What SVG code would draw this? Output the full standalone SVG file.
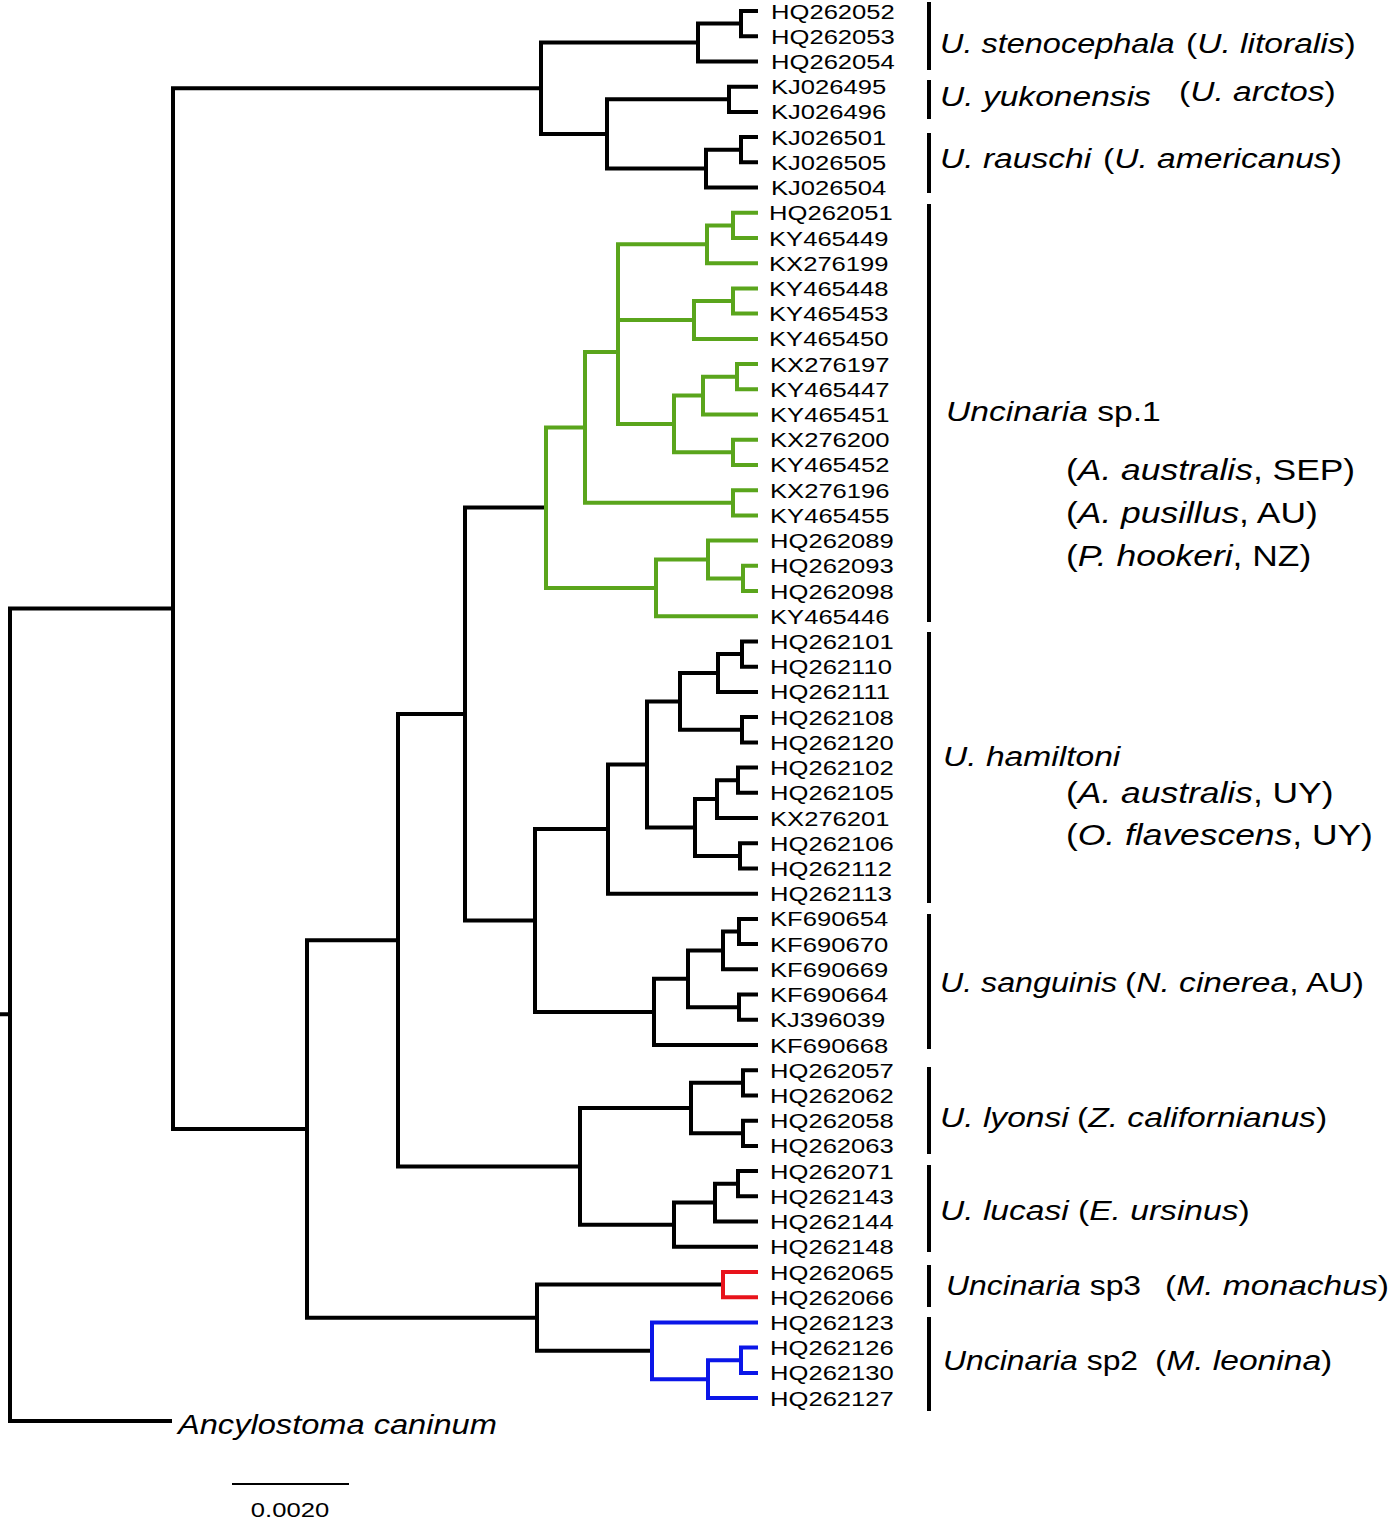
<svg xmlns="http://www.w3.org/2000/svg" width="1400" height="1521" viewBox="0 0 1400 1521">
<style>
.br{fill:none;stroke:#000;stroke-width:4;stroke-linejoin:miter;stroke-linecap:butt}
.g{stroke:#5aa51c}.r{stroke:#e8131b}.b{stroke:#0b16e8}
.bar{stroke:#000;stroke-width:4}
text{font-family:"Liberation Sans",Arial,Helvetica,sans-serif;fill:#000}
.acc{font-size:20px}
.lab{font-size:28px}
.host{font-size:29.5px}
.it{font-style:italic}
</style>
<rect width="1400" height="1521" fill="#fff"/>
<g id="connectors">
<path class="br" d="M0 1014.3 H10 M173 608.6 H10 V1421 H172"/>
<path class="br" d="M541 88.2 H173 V1129 H307"/>
<path class="br" d="M698 42.5 H541 V134 H607"/>
<path class="br" d="M741 23.6 H698 V61.4 H758"/>
<path class="br" d="M758 11 H741 V36.2 H758"/>
<path class="br" d="M729 99.3 H607 V168.6 H706"/>
<path class="br" d="M758 86.7 H729 V111.9 H758"/>
<path class="br" d="M741 149.7 H706 V187.5 H758"/>
<path class="br" d="M758 137.1 H741 V162.3 H758"/>
<path class="br" d="M398 940.2 H307 V1317.7 H537"/>
<path class="br" d="M465 714 H398 V1166.4 H580"/>
<path class="br" d="M546 507.6 H465 V920.5 H535"/>
<path class="br g" d="M585 427.4 H546 V587.9 H656"/>
<path class="br g" d="M618 352 H585 V502.8 H733"/>
<path class="br g" d="M758 490.2 H733 V515.4 H758"/>
<path class="br g" d="M707 244.3 H618 V424 H674 M618 320 H694"/>
<path class="br g" d="M733 225.4 H707 V263.2 H758"/>
<path class="br g" d="M758 212.8 H733 V238 H758"/>
<path class="br g" d="M733 301 H694 V338.9 H758"/>
<path class="br g" d="M758 288.4 H733 V313.6 H758"/>
<path class="br g" d="M703 395.6 H674 V452.3 H733"/>
<path class="br g" d="M737 376.7 H703 V414.5 H758"/>
<path class="br g" d="M758 364.1 H737 V389.3 H758"/>
<path class="br g" d="M758 439.7 H733 V464.9 H758"/>
<path class="br g" d="M708 559.5 H656 V616.3 H758"/>
<path class="br g" d="M758 540.6 H708 V578.4 H743"/>
<path class="br g" d="M758 565.8 H743 V591 H758"/>
<path class="br" d="M608 829.1 H535 V1011.9 H654"/>
<path class="br" d="M647 764.5 H608 V893.7 H758"/>
<path class="br" d="M680 701.4 H647 V827.5 H695"/>
<path class="br" d="M718 673 H680 V729.8 H742"/>
<path class="br" d="M742 654.1 H718 V691.9 H758"/>
<path class="br" d="M758 641.5 H742 V666.7 H758"/>
<path class="br" d="M758 717.1 H742 V742.4 H758"/>
<path class="br" d="M717 799.1 H695 V855.9 H740"/>
<path class="br" d="M738 780.2 H717 V818 H758"/>
<path class="br" d="M758 767.6 H738 V792.8 H758"/>
<path class="br" d="M758 843.2 H740 V868.5 H758"/>
<path class="br" d="M688 978.8 H654 V1045 H758"/>
<path class="br" d="M723 950.4 H688 V1007.2 H739"/>
<path class="br" d="M739 931.5 H723 V969.3 H758"/>
<path class="br" d="M758 918.9 H739 V944.1 H758"/>
<path class="br" d="M758 994.6 H739 V1019.8 H758"/>
<path class="br" d="M691 1108 H580 V1224.7 H674"/>
<path class="br" d="M743 1082.8 H691 V1133.3 H743"/>
<path class="br" d="M758 1070.2 H743 V1095.4 H758"/>
<path class="br" d="M758 1120.7 H743 V1145.9 H758"/>
<path class="br" d="M715 1202.6 H674 V1246.8 H758"/>
<path class="br" d="M738 1183.7 H715 V1221.5 H758"/>
<path class="br" d="M758 1171.1 H738 V1196.3 H758"/>
<path class="br" d="M723 1284.6 H537 V1350.8 H652"/>
<path class="br r" d="M758 1272 H723 V1297.2 H758"/>
<path class="br b" d="M758 1322.4 H652 V1379.2 H708"/>
<path class="br b" d="M741 1360.2 H708 V1398.1 H758"/>
<path class="br b" d="M758 1347.6 H741 V1372.9 H758"/>
</g>
<g id="leaves">
<g id="n-HQ262052"><text class="acc" transform="translate(771 18.5) scale(1.28 1)">HQ262052</text></g>
<g id="n-HQ262053"><text class="acc" transform="translate(771 43.7) scale(1.28 1)">HQ262053</text></g>
<g id="n-HQ262054"><text class="acc" transform="translate(771 68.9) scale(1.28 1)">HQ262054</text></g>
<g id="n-KJ026495"><text class="acc" transform="translate(771 94.2) scale(1.28 1)">KJ026495</text></g>
<g id="n-KJ026496"><text class="acc" transform="translate(771 119.4) scale(1.28 1)">KJ026496</text></g>
<g id="n-KJ026501"><text class="acc" transform="translate(771 144.6) scale(1.28 1)">KJ026501</text></g>
<g id="n-KJ026505"><text class="acc" transform="translate(771 169.8) scale(1.28 1)">KJ026505</text></g>
<g id="n-KJ026504"><text class="acc" transform="translate(771 195) scale(1.28 1)">KJ026504</text></g>
<g id="n-HQ262051"><text class="acc" transform="translate(769 220.3) scale(1.28 1)">HQ262051</text></g>
<g id="n-KY465449"><text class="acc" transform="translate(769 245.5) scale(1.28 1)">KY465449</text></g>
<g id="n-KX276199"><text class="acc" transform="translate(769 270.7) scale(1.28 1)">KX276199</text></g>
<g id="n-KY465448"><text class="acc" transform="translate(769 295.9) scale(1.28 1)">KY465448</text></g>
<g id="n-KY465453"><text class="acc" transform="translate(769 321.1) scale(1.28 1)">KY465453</text></g>
<g id="n-KY465450"><text class="acc" transform="translate(769 346.4) scale(1.28 1)">KY465450</text></g>
<g id="n-KX276197"><text class="acc" transform="translate(770 371.6) scale(1.28 1)">KX276197</text></g>
<g id="n-KY465447"><text class="acc" transform="translate(770 396.8) scale(1.28 1)">KY465447</text></g>
<g id="n-KY465451"><text class="acc" transform="translate(770 422) scale(1.28 1)">KY465451</text></g>
<g id="n-KX276200"><text class="acc" transform="translate(770 447.2) scale(1.28 1)">KX276200</text></g>
<g id="n-KY465452"><text class="acc" transform="translate(770 472.4) scale(1.28 1)">KY465452</text></g>
<g id="n-KX276196"><text class="acc" transform="translate(770 497.7) scale(1.28 1)">KX276196</text></g>
<g id="n-KY465455"><text class="acc" transform="translate(770 522.9) scale(1.28 1)">KY465455</text></g>
<g id="n-HQ262089"><text class="acc" transform="translate(770 548.1) scale(1.28 1)">HQ262089</text></g>
<g id="n-HQ262093"><text class="acc" transform="translate(770 573.3) scale(1.28 1)">HQ262093</text></g>
<g id="n-HQ262098"><text class="acc" transform="translate(770 598.5) scale(1.28 1)">HQ262098</text></g>
<g id="n-KY465446"><text class="acc" transform="translate(770 623.8) scale(1.28 1)">KY465446</text></g>
<g id="n-HQ262101"><text class="acc" transform="translate(770 649) scale(1.28 1)">HQ262101</text></g>
<g id="n-HQ262110"><text class="acc" transform="translate(770 674.2) scale(1.28 1)">HQ262110</text></g>
<g id="n-HQ262111"><text class="acc" transform="translate(770 699.4) scale(1.28 1)">HQ262111</text></g>
<g id="n-HQ262108"><text class="acc" transform="translate(770 724.6) scale(1.28 1)">HQ262108</text></g>
<g id="n-HQ262120"><text class="acc" transform="translate(770 749.9) scale(1.28 1)">HQ262120</text></g>
<g id="n-HQ262102"><text class="acc" transform="translate(770 775.1) scale(1.28 1)">HQ262102</text></g>
<g id="n-HQ262105"><text class="acc" transform="translate(770 800.3) scale(1.28 1)">HQ262105</text></g>
<g id="n-KX276201"><text class="acc" transform="translate(770 825.5) scale(1.28 1)">KX276201</text></g>
<g id="n-HQ262106"><text class="acc" transform="translate(770 850.7) scale(1.28 1)">HQ262106</text></g>
<g id="n-HQ262112"><text class="acc" transform="translate(770 876) scale(1.28 1)">HQ262112</text></g>
<g id="n-HQ262113"><text class="acc" transform="translate(770 901.2) scale(1.28 1)">HQ262113</text></g>
<g id="n-KF690654"><text class="acc" transform="translate(770 926.4) scale(1.28 1)">KF690654</text></g>
<g id="n-KF690670"><text class="acc" transform="translate(770 951.6) scale(1.28 1)">KF690670</text></g>
<g id="n-KF690669"><text class="acc" transform="translate(770 976.8) scale(1.28 1)">KF690669</text></g>
<g id="n-KF690664"><text class="acc" transform="translate(770 1002.1) scale(1.28 1)">KF690664</text></g>
<g id="n-KJ396039"><text class="acc" transform="translate(770 1027.3) scale(1.28 1)">KJ396039</text></g>
<g id="n-KF690668"><text class="acc" transform="translate(770 1052.5) scale(1.28 1)">KF690668</text></g>
<g id="n-HQ262057"><text class="acc" transform="translate(770 1077.7) scale(1.28 1)">HQ262057</text></g>
<g id="n-HQ262062"><text class="acc" transform="translate(770 1102.9) scale(1.28 1)">HQ262062</text></g>
<g id="n-HQ262058"><text class="acc" transform="translate(770 1128.2) scale(1.28 1)">HQ262058</text></g>
<g id="n-HQ262063"><text class="acc" transform="translate(770 1153.4) scale(1.28 1)">HQ262063</text></g>
<g id="n-HQ262071"><text class="acc" transform="translate(770 1178.6) scale(1.28 1)">HQ262071</text></g>
<g id="n-HQ262143"><text class="acc" transform="translate(770 1203.8) scale(1.28 1)">HQ262143</text></g>
<g id="n-HQ262144"><text class="acc" transform="translate(770 1229) scale(1.28 1)">HQ262144</text></g>
<g id="n-HQ262148"><text class="acc" transform="translate(770 1254.3) scale(1.28 1)">HQ262148</text></g>
<g id="n-HQ262065"><text class="acc" transform="translate(770 1279.5) scale(1.28 1)">HQ262065</text></g>
<g id="n-HQ262066"><text class="acc" transform="translate(770 1304.7) scale(1.28 1)">HQ262066</text></g>
<g id="n-HQ262123"><text class="acc" transform="translate(770 1329.9) scale(1.28 1)">HQ262123</text></g>
<g id="n-HQ262126"><text class="acc" transform="translate(770 1355.1) scale(1.28 1)">HQ262126</text></g>
<g id="n-HQ262130"><text class="acc" transform="translate(770 1380.4) scale(1.28 1)">HQ262130</text></g>
<g id="n-HQ262127"><text class="acc" transform="translate(770 1405.6) scale(1.28 1)">HQ262127</text></g>
<g id="n-Ancylostoma"><text class="lab it" transform="translate(178 1434) scale(1.165 1)">Ancylostoma caninum</text></g>
</g>
<g id="clades">
<g id="c-stenocephala"><line class="bar" x1="929" y1="2" x2="929" y2="70"/>
<text class="lab it" transform="translate(940 53) scale(1.16 1)">U. stenocephala</text>
<text class="lab" transform="translate(1186 53) scale(1.2 1)">(<tspan class="it">U. litoralis</tspan>)</text></g>
<g id="c-yukonensis"><line class="bar" x1="929" y1="80" x2="929" y2="119"/>
<text class="lab it" transform="translate(940 106) scale(1.2 1)">U. yukonensis</text>
<text class="lab" transform="translate(1179 101) scale(1.2 1)">(<tspan class="it">U. arctos</tspan>)</text></g>
<g id="c-rauschi"><line class="bar" x1="929" y1="133" x2="929" y2="193"/>
<text class="lab it" transform="translate(940 168) scale(1.2 1)">U. rauschi</text>
<text class="lab" transform="translate(1103 168) scale(1.2 1)">(<tspan class="it">U. americanus</tspan>)</text></g>
<g id="c-sp1"><line class="bar" x1="929" y1="204" x2="929" y2="622"/>
<text class="lab" transform="translate(946 421) scale(1.2 1)"><tspan class="it">Uncinaria</tspan> sp.1</text>
<text class="host" transform="translate(1066 480) scale(1.2 1)">(<tspan class="it">A. australis</tspan>, SEP)</text>
<text class="host" transform="translate(1066 523) scale(1.2 1)">(<tspan class="it">A. pusillus</tspan>, AU)</text>
<text class="host" transform="translate(1066 566) scale(1.2 1)">(<tspan class="it">P. hookeri</tspan>, NZ)</text></g>
<g id="c-hamiltoni"><line class="bar" x1="929" y1="632" x2="929" y2="903"/>
<text class="lab it" transform="translate(943 766) scale(1.2 1)">U. hamiltoni</text>
<text class="host" transform="translate(1066 803) scale(1.2 1)">(<tspan class="it">A. australis</tspan>, UY)</text>
<text class="host" transform="translate(1066 845) scale(1.2 1)">(<tspan class="it">O. flavescens</tspan>, UY)</text></g>
<g id="c-sanguinis"><line class="bar" x1="929" y1="914" x2="929" y2="1049"/>
<text class="lab it" transform="translate(940 992) scale(1.15 1)">U. sanguinis</text>
<text class="lab" transform="translate(1125 992) scale(1.2 1)">(<tspan class="it">N. cinerea</tspan>, AU)</text></g>
<g id="c-lyonsi"><line class="bar" x1="929" y1="1067" x2="929" y2="1154"/>
<text class="lab it" transform="translate(940 1127) scale(1.2 1)">U. lyonsi</text>
<text class="lab" transform="translate(1077 1127) scale(1.2 1)">(<tspan class="it">Z. californianus</tspan>)</text></g>
<g id="c-lucasi"><line class="bar" x1="929" y1="1165" x2="929" y2="1252"/>
<text class="lab it" transform="translate(940 1220) scale(1.2 1)">U. lucasi</text>
<text class="lab" transform="translate(1078 1220) scale(1.2 1)">(<tspan class="it">E. ursinus</tspan>)</text></g>
<g id="c-sp3"><line class="bar" x1="929" y1="1265" x2="929" y2="1307"/>
<text class="lab" transform="translate(946 1295) scale(1.14 1)"><tspan class="it">Uncinaria</tspan> sp3</text>
<text class="lab" transform="translate(1165 1295) scale(1.2 1)">(<tspan class="it">M. monachus</tspan>)</text></g>
<g id="c-sp2"><line class="bar" x1="929" y1="1317" x2="929" y2="1411"/>
<text class="lab" transform="translate(943 1370) scale(1.14 1)"><tspan class="it">Uncinaria</tspan> sp2</text>
<text class="lab" transform="translate(1155 1370) scale(1.2 1)">(<tspan class="it">M. leonina</tspan>)</text></g>
</g>
<g id="scale-bar">
<line x1="232" y1="1484" x2="349" y2="1484" stroke="#000" stroke-width="2"/>
<text class="acc" text-anchor="middle" transform="translate(290 1517) scale(1.28 1)">0.0020</text>
</g>
</svg>
